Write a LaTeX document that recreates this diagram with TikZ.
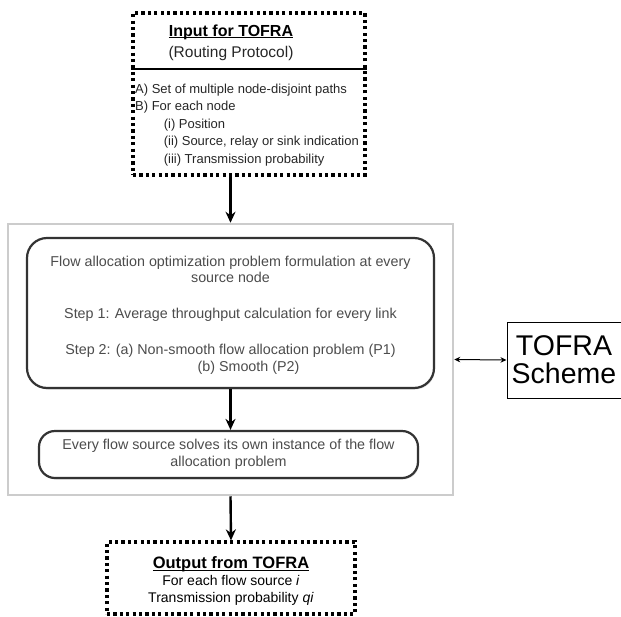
\documentclass[tikz,border=0pt]{standalone}
\usepackage{fontspec}
\setmainfont{Liberation Sans}
\usetikzlibrary{positioning,shadows,arrows.meta}

\begin{document}
\begin{tikzpicture}[x=1pt,y=-1pt,
        dotbox/.style={draw,line width=3.2pt,dash pattern=on 3.2pt off 3.2pt,inner sep=0pt},
        roundbox/.style={draw=black!80,line width=2.2pt,fill=white,align=center,text=black!70,
            drop shadow={opacity=0.25,shadow xshift=1pt,shadow yshift=-1.5pt}},
        flow/.style={line width=2.4pt,-{Stealth[length=11pt,width=10pt]}},
        link/.style={line width=1pt,{Stealth[length=6pt,width=5.5pt]}-{Stealth[length=6pt,width=5.5pt]}}]

        \def\listfont{\fontsize{13}{17.5}\selectfont}	 %list text
        \def\boxfont{\fontsize{14.3}{16.5}\selectfont}	 %text in the scheme

        \useasboundingbox (0,0) rectangle (621,616);

        %INPUT
        \node[dotbox,minimum width=232pt,minimum height=162pt] (input) at (249,94) {};
        \node[font=\fontsize{16}{18}\selectfont\bfseries] (inTitle) at (231,37) {\underline{\smash{Input for TOFRA}}};
        \node[font=\fontsize{15.5}{18}\selectfont,text=black!85] (inSub) at (231,53) {(Routing Protocol)};
        \coordinate (inSep) at (0,69);
        \draw[line width=1.8pt] (input.west |- inSep) -- (input.east |- inSep);
        \node[font=\listfont,align=left,anchor=west,inner sep=0pt,text=black!85] (inList) at (135,125)
            {A) Set of multiple node-disjoint paths\\
             B) For each node\\
             \hspace{2.2em}(i) Position\\
             \hspace{2.2em}(ii) Source, relay or sink indication\\
             \hspace{2.2em}(iii) Transmission probability};

        %SCHEME
        \node[draw=black!20,line width=2.5pt,minimum width=445pt,minimum height=271pt] (engine) at (230.5,359.5) {};
        \node[roundbox,rounded corners=20pt,minimum width=407pt,minimum height=150pt] (formulate) at (230.5,313) {};
        \node[font=\boxfont,align=center,text=black!70] (formText) at (230.5,315)
            {Flow allocation optimization problem formulation at every\\
             source node\\[19.5pt]
             Step 1: Average throughput calculation for every link\\[19.5pt]
             Step 2: (a) Non-smooth flow allocation problem (P1)\\
             \hspace*{36pt}(b) Smooth (P2)};
        \node[roundbox,rounded corners=16pt,minimum width=379pt,minimum height=47pt,font=\fontsize{14.3}{17}\selectfont] (solve) at (228.5,454.5)
            {Every flow source solves its own instance of the flow\\
             allocation problem};
        \node[draw,line width=1pt,minimum width=114pt,minimum height=76pt,align=center,
            font=\fontsize{28.5}{28}\selectfont] (tofra) at (564,360) {TOFRA\\Scheme};

        %OUTPUT
        \node[dotbox,minimum width=248pt,minimum height=72pt] (output) at (231,578) {};
        \node[align=center,font=\fontsize{14}{17}\selectfont] (outText) at (231,587)
            {{\fontsize{16.5}{17}\selectfont\bfseries\underline{\smash{Output from TOFRA}}}\\
             For each flow source \textit{i}\\
             Transmission probability \textit{qi}};

        %ARROWS
        \draw[flow] (input.south -| engine.north) -- (engine.north);
        \draw[flow] (formulate.south) -- (solve.north -| formulate.south);
        \draw[flow] (engine.south) -- (output.north);
        \draw[link] (engine.east) -- (tofra.west);
    \end{tikzpicture}
\end{document}
